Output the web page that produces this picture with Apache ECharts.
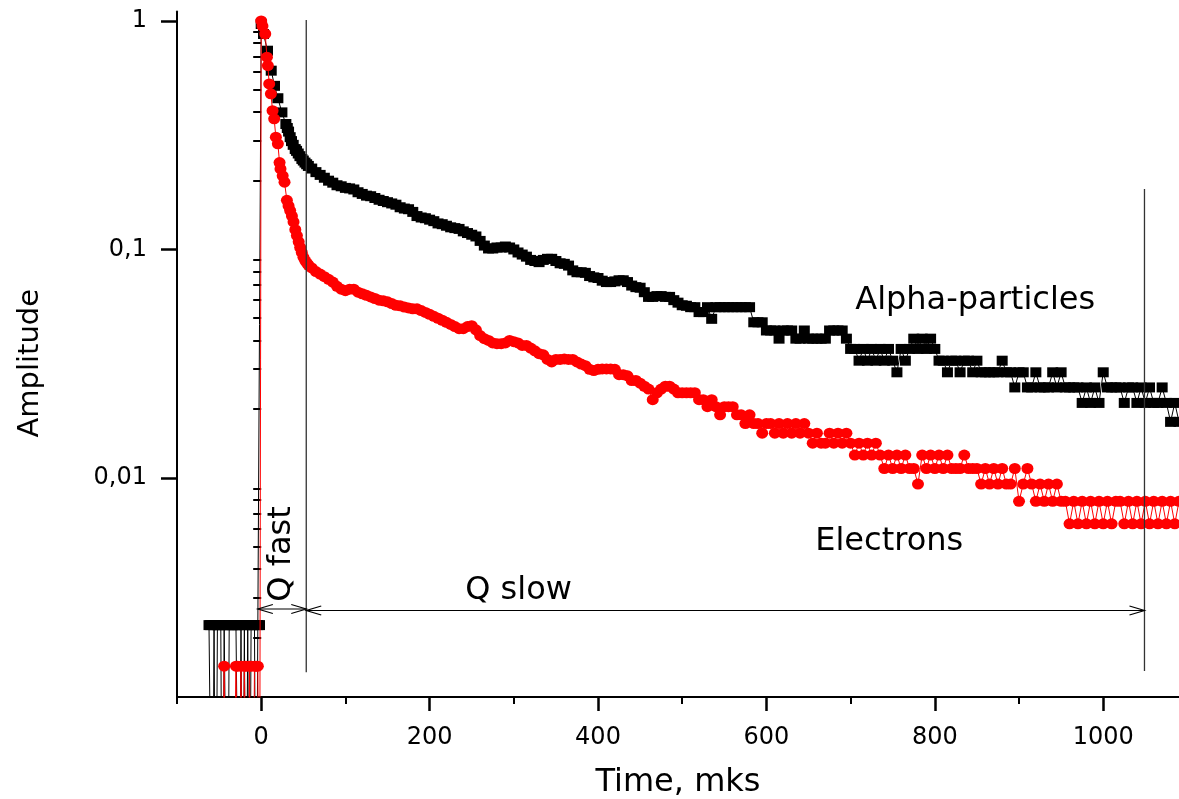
<!DOCTYPE html>
<html>
<head>
<meta charset="utf-8">
<script src="https://cdn.jsdelivr.net/npm/echarts/dist/echarts.min.js"></script>
<style>
html,body{margin:0;padding:0;background:#fff;}
#chart{width:1179px;height:799px;}
</style>
</head>
<body>
<div id="chart"></div>
<script>
// ---------------- tick values ----------------
const xMajorTicks = [0, 200, 400, 600, 800, 1000];
const xMinorTicks = [-100, 100, 300, 500, 700, 900];
const yMajorTicks = [0.01, 0.1, 1];
const yMinorTicks = [0.002,0.003,0.004,0.005,0.006,0.007,0.008,0.009,
                     0.02,0.03,0.04,0.05,0.06,0.07,0.08,0.09,
                     0.2,0.3,0.4,0.5,0.6,0.7,0.8,0.9];

// ---------------- data ----------------
// pre-trigger samples (0.0001 = value below the axis bottom)
const alphaPreTime = [-62,-60,-58,-56,-54,-52,-50,-48,-46,-44,-42,-40,-38,-36,-34,-32,-30,-28,-26,-24,-22,-20,-18,-16,-14,-12,-10,-8,-6,-4,-2];
const alphaPreAmp  = [0.00227,0.00227,0.0001,0.00227,0.0001,0.00227,0.00227,0.00227,0.0001,0.00227,0.00227,0.0001,0.00227,0.00227,0.00227,0.00227,
                      0.00227,0.00227,0.0001,0.00227,0.0001,0.00227,0.0001,0.00227,0.0001,0.00227,0.00227,0.00227,0.0001,0.00227,0.00227];
const electronPreTime = [-62,-60,-58,-56,-54,-52,-50,-48,-46,-44,-42,-40,-38,-36,-34,-32,-30,-28,-26,-24,-22,-20,-18,-16,-14,-12,-10,-8,-6,-4,-2];
const electronPreAmp  = [0.0001,0.0001,0.0001,0.0001,0.0001,0.0001,0.0001,0.0001,0.0001,0.0015,0.0001,0.0001,0.0001,0.0001,0.0001,0.0001,
                         0.0015,0.0015,0.0001,0.0015,0.0001,0.0015,0.0015,0.0001,0.0015,0.0015,0.0001,0.0015,0.0015,0.0015,0.0001];

// fast part of the pulse
const alphaEarlyTime = [0, 2.7, 7.5, 11.9, 15.8, 19.8, 24.6, 29.3, 31, 32.5, 34.4, 36, 38, 40.4, 42, 44, 46, 48.3, 50, 52, 54, 56];
const alphaEarlyAmp  = [0.97, 0.877, 0.741, 0.606, 0.52, 0.459, 0.398, 0.354, 0.34, 0.328, 0.31, 0.298, 0.287, 0.275, 0.27, 0.263, 0.256, 0.249, 0.245, 0.24, 0.236, 0.232];
const electronEarlyTime = [0, 1.5, 4.8, 6.8, 7.9, 9.5, 11.5, 13.5, 15.4, 17.4, 19.8, 21.8, 22.9, 25.5, 27.7, 30.5, 32.5, 34.4, 36.5, 38.4, 40.5, 42.4, 44.5, 46.3, 48.2, 50.2, 52.5, 54.5, 56.2];
const electronEarlyAmp  = [1.0, 0.95, 0.877, 0.694, 0.638, 0.53, 0.48, 0.405, 0.373, 0.31, 0.29, 0.24, 0.225, 0.21, 0.197, 0.164, 0.155, 0.148, 0.14, 0.132, 0.122, 0.115, 0.108, 0.102, 0.097, 0.0924, 0.089, 0.087, 0.0853];

// slow part of the pulse
const mainTime = [
  60,65,70,75,80,85,90,95,100,105,
  110,115,120,125,130,135,140,145,150,155,
  160,165,170,175,180,185,190,195,200,205,
  210,215,220,225,230,235,240,245,250,255,
  260,265,270,275,280,285,290,295,300,305,
  310,315,320,325,330,335,340,345,350,355,
  360,365,370,375,380,385,390,395,400,405,
  410,415,420,425,430,435,440,445,450,455,
  460,465,470,475,480,485,490,495,500,505,
  510,515,520,525,530,535,540,545,550,555,
  560,565,570,575,580,585,590,595,600,605,
  610,615,620,625,630,635,640,645,650,655,
  660,665,670,675,680,685,690,695,700,705,
  710,715,720,725,730,735,740,745,750,755,
  760,765,770,775,780,785,790,795,800,805,
  810,815,820,825,830,835,840,845,850,855,
  860,865,870,875,880,885,890,895,900,905,
  910,915,920,925,930,935,940,945,950,955,
  960,965,970,975,980,985,990,995,1000,1005,
  1010,1015,1020,1025,1030,1035,1040,1045,1050,1055,
  1060,1065,1070,1075,1080,1085,1090
];
const alphaMainAmp = [
  0.226,0.218,0.212,0.206,0.200,0.196,0.191,0.189,0.186,0.185,
  0.183,0.178,0.175,0.172,0.171,0.168,0.165,0.163,0.161,0.159,
  0.157,0.153,0.151,0.150,0.146,0.140,0.138,0.137,0.135,0.133,
  0.130,0.129,0.127,0.125,0.124,0.123,0.120,0.118,0.116,0.114,
  0.109,0.104,0.101,0.101,0.102,0.102,0.103,0.102,0.100,0.097,
  0.095,0.093,0.090,0.089,0.088,0.090,0.091,0.091,0.089,0.087,
  0.0865,0.085,0.081,0.0795,0.0795,0.079,0.0765,0.0755,0.075,0.073,
  0.072,0.072,0.0725,0.0733,0.0733,0.072,0.0695,0.0684,0.068,0.065,
  0.062,0.062,0.0625,0.0625,0.062,0.062,0.060,0.0585,0.057,0.0567,
  0.0559,0.0559,0.0532,0.0532,0.0559,0.0497,0.0559,0.0559,0.0559,0.0559,
  0.0559,0.0559,0.0559,0.0559,0.0559,0.048,0.048,0.048,0.0442,0.0442,
  0.0442,0.0407,0.0442,0.0442,0.0442,0.0407,0.0407,0.0442,0.0407,0.0407,
  0.0407,0.0407,0.0407,0.0442,0.0442,0.0442,0.0442,0.0407,0.0367,0.0367,
  0.0326,0.0367,0.0326,0.0367,0.0326,0.0367,0.0326,0.0367,0.0326,0.029,
  0.0367,0.0326,0.0367,0.0407,0.0367,0.0407,0.0367,0.0407,0.0367,0.0326,
  0.0326,0.029,0.0326,0.0326,0.029,0.0326,0.0326,0.029,0.0326,0.029,
  0.029,0.029,0.029,0.029,0.0326,0.029,0.029,0.0249,0.029,0.029,
  0.0249,0.0249,0.029,0.0249,0.0249,0.0249,0.029,0.0249,0.029,0.0249,
  0.0249,0.0249,0.0249,0.0213,0.0249,0.0213,0.0249,0.0213,0.029,0.0249,
  0.0249,0.0249,0.0249,0.0213,0.0249,0.0249,0.0213,0.0249,0.0213,0.0249,
  0.0213,0.0213,0.0249,0.0213,0.0176,0.0213,0.0176
];
const electronMainAmp = [
  0.083,0.080,0.078,0.076,0.074,0.072,0.069,0.067,0.066,0.067,
  0.067,0.065,0.064,0.063,0.062,0.061,0.060,0.0596,0.059,0.058,
  0.057,0.0567,0.056,0.0555,0.055,0.055,0.054,0.053,0.052,0.051,
  0.050,0.049,0.048,0.047,0.046,0.045,0.045,0.046,0.0464,0.0445,
  0.042,0.0407,0.040,0.039,0.0387,0.0387,0.039,0.040,0.0395,0.039,
  0.038,0.038,0.037,0.036,0.035,0.0346,0.033,0.0322,0.033,0.033,
  0.0332,0.033,0.033,0.0322,0.0315,0.031,0.0299,0.0295,0.0299,0.030,
  0.030,0.030,0.0299,0.0283,0.0283,0.028,0.0267,0.0267,0.026,0.0252,
  0.0245,0.022,0.0236,0.0245,0.0252,0.0252,0.0245,0.0236,0.0236,0.0236,
  0.0236,0.0236,0.022,0.022,0.0205,0.022,0.0205,0.0189,0.0205,0.0205,
  0.0205,0.0189,0.0189,0.0173,0.0189,0.0173,0.0173,0.0157,0.0173,0.0173,
  0.0157,0.0173,0.0157,0.0173,0.0157,0.0173,0.0157,0.0173,0.0157,0.0142,
  0.0157,0.0142,0.0142,0.0157,0.0142,0.0157,0.0142,0.0157,0.0142,0.0126,
  0.0142,0.0126,0.0142,0.0126,0.0142,0.0126,0.011,0.0126,0.011,0.0126,
  0.011,0.0126,0.011,0.011,0.0094,0.0126,0.011,0.0126,0.011,0.0126,
  0.011,0.0126,0.011,0.011,0.011,0.0126,0.011,0.011,0.011,0.0094,
  0.011,0.0094,0.011,0.0094,0.011,0.0094,0.0094,0.011,0.0079,0.0094,
  0.011,0.0094,0.0079,0.0094,0.0079,0.0094,0.0079,0.0094,0.0079,0.0079,
  0.0063,0.0079,0.0063,0.0079,0.0063,0.0079,0.0063,0.0079,0.0063,0.0079,
  0.0063,0.0079,0.0079,0.0063,0.0079,0.0063,0.0079,0.0063,0.0079,0.0063,
  0.0079,0.0063,0.0079,0.0063,0.0079,0.0063,0.0079
];

// annotations (data units)
const guideX      = [53.5, 1049];
const guideTop    = [1.01, 0.184];
const guideBottom = [0.00141, 0.00143];
const arrowFrom   = [-4, 53.5];
const arrowTo     = [53.5, 1049];
const arrowLevel  = [0.00267, 0.00263];
const noteText    = ['Alpha-particles', 'Electrons', 'Q slow', 'Q fast'];
const noteX       = [705.5, 658, 242.3, 23.8];
const noteY       = [0.0595, 0.00525, 0.0032, 0.00465];

// ---------------- build ----------------
const FONT = '"DejaVu Sans", sans-serif';
const pairs = (t, a) => t.map((v, i) => [v, a[i]]);
const alphaData = [].concat(pairs(alphaPreTime, alphaPreAmp), pairs(alphaEarlyTime, alphaEarlyAmp), pairs(mainTime, alphaMainAmp));
const electronData = [].concat(pairs(electronPreTime, electronPreAmp), pairs(electronEarlyTime, electronEarlyAmp), pairs(mainTime, electronMainAmp));

const fmtY = v => String(Number(Number(v).toPrecision(3))).replace('.', ',');
const fmtX = v => String(Math.round(v));

const chart = echarts.init(document.getElementById('chart'), null, {renderer: 'canvas'});
const option = {
  animation: false,
  backgroundColor: '#fff',
  grid: {left: 177, right: 0, top: 11.5, bottom: 102, containLabel: false, outerBoundsMode: 'none'},
  xAxis: [
    {
      type: 'value', min: -100, max: 1090, position: 'bottom',
      name: 'Time, mks', nameLocation: 'middle', nameGap: 70,
      nameTextStyle: {fontSize: 32, fontFamily: FONT, color: '#000'},
      axisLine: {show: true, onZero: false, lineStyle: {color: '#000', width: 2}},
      axisTick: {show: true, customValues: xMajorTicks, length: 14, lineStyle: {color: '#000', width: 2.5}},
      axisLabel: {customValues: xMajorTicks, formatter: fmtX, fontSize: 24, fontFamily: FONT, color: '#000', margin: 29},
      splitLine: {show: false}
    },
    {
      type: 'value', min: -100, max: 1090, position: 'bottom', offset: 0,
      axisLine: {show: false},
      axisTick: {show: true, customValues: xMinorTicks, length: 7, lineStyle: {color: '#000', width: 2}},
      axisLabel: {show: false},
      splitLine: {show: false}
    }
  ],
  yAxis: [
    {
      type: 'log', logBase: 10, min: 0.0011, max: 1.1, position: 'left',
      name: 'Amplitude', nameLocation: 'middle', nameGap: 132,
      nameTextStyle: {fontSize: 29, fontFamily: FONT, color: '#000', padding: [0, 18, 0, 0]},
      axisLine: {show: true, onZero: false, lineStyle: {color: '#000', width: 2}},
      axisTick: {show: true, customValues: yMajorTicks, length: 16, lineStyle: {color: '#000', width: 2.5}},
      axisLabel: {customValues: yMajorTicks, formatter: fmtY, fontSize: 24, fontFamily: FONT, color: '#000', margin: 30},
      splitLine: {show: false}
    },
    {
      type: 'log', logBase: 10, min: 0.0011, max: 1.1, position: 'left', offset: 0,
      axisLine: {show: false},
      axisTick: {show: true, customValues: yMinorTicks, length: 8, lineStyle: {color: '#000', width: 2}},
      axisLabel: {show: false},
      splitLine: {show: false}
    }
  ],
  series: [
    {
      name: 'Alpha-particles', type: 'line', data: alphaData,
      xAxisIndex: 0, yAxisIndex: 0,
      symbol: 'rect', symbolSize: [11, 10], showSymbol: true, showAllSymbol: true,
      itemStyle: {color: '#000'}, lineStyle: {color: '#000', width: 1},
      clip: true, z: 2, silent: true
    },
    {
      name: 'Electrons', type: 'line', data: electronData,
      xAxisIndex: 0, yAxisIndex: 0,
      symbol: 'circle', symbolSize: [12, 11], showSymbol: true, showAllSymbol: true,
      itemStyle: {color: '#ff0000'}, lineStyle: {color: '#ff0000', width: 1},
      clip: true, z: 3, silent: true
    },
    {
      type: 'custom', xAxisIndex: 0, yAxisIndex: 0, silent: true, z: 4,
      data: guideX.map((x, i) => [x, guideTop[i]]),
      renderItem: (params, api) => {
        const i = params.dataIndex;
        const a = api.coord([guideX[i], guideTop[i]]);
        const b = api.coord([guideX[i], guideBottom[i]]);
        return {type: 'line', shape: {x1: a[0], y1: a[1], x2: b[0], y2: b[1]},
                style: {stroke: '#333', lineWidth: 1.3}};
      }
    },
    {
      type: 'custom', xAxisIndex: 0, yAxisIndex: 0, silent: true, z: 4,
      data: arrowFrom.map((x, i) => [x, arrowLevel[i]]),
      renderItem: (params, api) => {
        const i = params.dataIndex;
        const a = api.coord([arrowFrom[i], arrowLevel[i]]);
        const b = api.coord([arrowTo[i], arrowLevel[i]]);
        const L = 15, H = 4.5;
        const st = {stroke: '#000', fill: null, lineWidth: 1.2};
        return {type: 'group', children: [
          {type: 'line', shape: {x1: a[0], y1: a[1], x2: b[0], y2: b[1]}, style: st},
          {type: 'polyline', shape: {points: [[a[0] + L, a[1] - H], [a[0], a[1]], [a[0] + L, a[1] + H]]}, style: st},
          {type: 'polyline', shape: {points: [[b[0] - L, b[1] - H], [b[0], b[1]], [b[0] - L, b[1] + H]]}, style: st}
        ]};
      }
    },
    {
      type: 'custom', xAxisIndex: 0, yAxisIndex: 0, silent: true, z: 5,
      data: noteX.map((x, i) => [x, noteY[i]]),
      renderItem: (params, api) => {
        const i = params.dataIndex;
        const p = api.coord([noteX[i], noteY[i]]);
        const vertical = noteText[i] === 'Q fast';
        return {type: 'text', x: p[0], y: p[1], rotation: vertical ? Math.PI / 2 : 0,
                style: {text: noteText[i], fill: '#000', font: '32px ' + FONT,
                        align: vertical ? 'center' : 'left', verticalAlign: 'middle'}};
      }
    }
  ]
};
chart.setOption(option);
</script>
</body>
</html>
